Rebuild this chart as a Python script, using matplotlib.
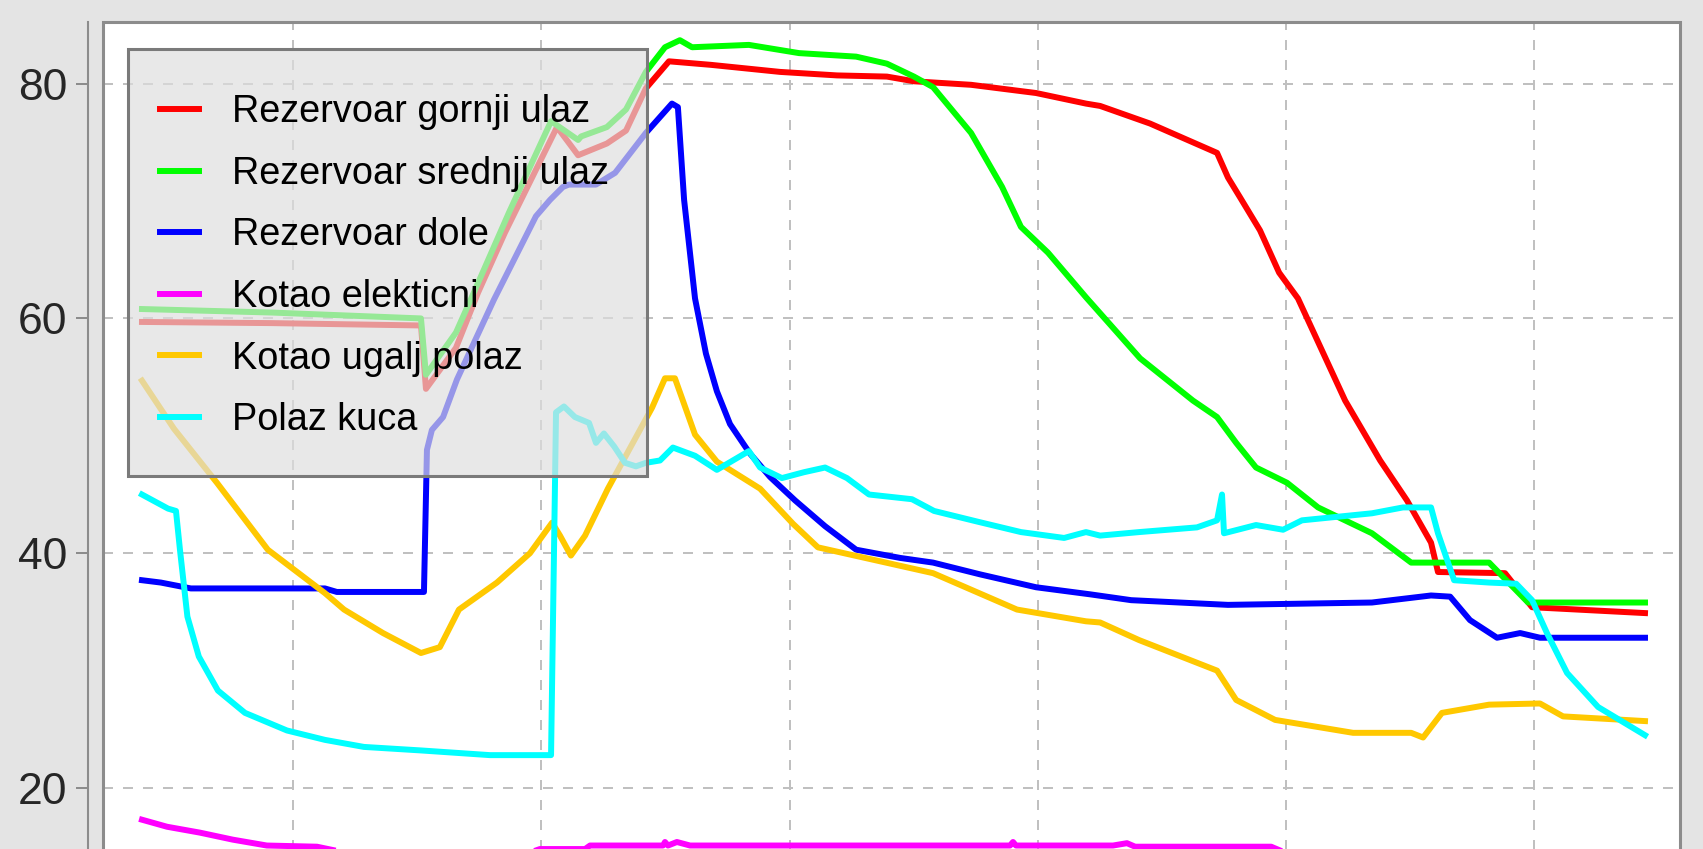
import matplotlib.pyplot as plt
from matplotlib.patches import Rectangle

# vremenska osa (sati), vrijednosti u °C
red_x = [0.391, 0.915, 1.515, 1.535, 1.656, 1.745, 1.853, 2.063, 2.148, 2.264, 2.341, 2.421,
         2.514, 2.683, 2.961, 3.191, 3.392, 3.501, 3.731, 3.993, 4.194, 4.251, 4.452, 4.722,
         4.766, 4.815, 4.895, 4.972, 5.048, 5.238, 5.379, 5.487, 5.584, 5.612, 5.882, 5.991, 6.446]
red_y = [59.7, 59.6, 59.4, 54.0, 57.5, 62.2, 67.3, 76.3, 73.9, 74.9, 76.0, 79.6,
         81.9, 81.6, 81.0, 80.7, 80.6, 80.2, 79.9, 79.2, 78.3, 78.1, 76.6, 74.1,
         72.0, 70.3, 67.5, 63.9, 61.7, 53.0, 47.9, 44.5, 40.9, 38.4, 38.3, 35.4, 34.9]

green_x = [0.391, 0.915, 1.515, 1.535, 1.656, 1.732, 1.869, 2.039, 2.148, 2.160, 2.264, 2.341,
           2.421, 2.498, 2.558, 2.607, 2.836, 3.038, 3.268, 3.392, 3.501, 3.578, 3.731, 3.856,
           3.932, 4.041, 4.194, 4.412, 4.625, 4.722, 4.799, 4.879, 5.004, 5.129, 5.346, 5.504,
           5.818, 5.975, 6.446]
green_y = [60.8, 60.5, 60.0, 55.2, 58.8, 62.4, 69.0, 76.8, 75.2, 75.5, 76.3, 77.8,
           81.0, 83.1, 83.7, 83.1, 83.3, 82.6, 82.3, 81.7, 80.6, 79.7, 75.8, 71.2,
           67.8, 65.6, 61.8, 56.6, 53.0, 51.6, 49.4, 47.3, 46.0, 43.9, 41.7, 39.2,
           39.2, 35.8, 35.8]

blue_x = [0.391, 0.467, 0.588, 1.128, 1.176, 1.527, 1.539, 1.559, 1.604, 1.660, 1.809, 1.978,
          2.035, 2.087, 2.111, 2.220, 2.297, 2.421, 2.526, 2.550, 2.575, 2.619, 2.663, 2.707,
          2.760, 2.840, 2.921, 3.022, 3.143, 3.268, 3.445, 3.578, 3.767, 3.993, 4.210, 4.376,
          4.766, 5.346, 5.584, 5.661, 5.741, 5.850, 5.943, 6.023, 6.446]
blue_y = [37.7, 37.5, 37.0, 37.0, 36.7, 36.7, 48.8, 50.5, 51.6, 54.8, 61.6, 68.7,
          70.1, 71.2, 71.4, 71.4, 72.4, 75.8, 78.3, 78.0, 70.1, 61.7, 57.0, 53.8,
          51.0, 48.5, 46.5, 44.5, 42.3, 40.3, 39.6, 39.2, 38.2, 37.1, 36.5, 36.0,
          35.6, 35.8, 36.4, 36.3, 34.3, 32.8, 33.2, 32.8, 32.8]

magenta_x = [0.391, 0.492, 0.624, 0.757, 0.894, 1.096, 1.209, 1.954, 1.994, 2.176, 2.196,
             2.490, 2.498, 2.510, 2.546, 2.599, 3.888, 3.900, 3.912, 4.303, 4.359, 4.392,
             4.940, 4.996, 6.446]
magenta_y = [17.3, 16.7, 16.2, 15.6, 15.1, 15.0, 14.5, 14.5, 14.8, 14.8, 15.1,
             15.1, 15.4, 15.1, 15.4, 15.1, 15.1, 15.4, 15.1, 15.1, 15.3, 15.0,
             15.0, 14.5, 14.5]

orange_x = [0.391, 0.520, 0.693, 0.898, 1.128, 1.205, 1.362, 1.515, 1.591, 1.668, 1.821, 1.954,
            2.043, 2.075, 2.119, 2.176, 2.268, 2.446, 2.498, 2.538, 2.619, 2.707, 2.881, 3.014,
            3.114, 3.578, 3.916, 4.194, 4.251, 4.408, 4.722, 4.799, 4.956, 5.270, 5.504, 5.552,
            5.628, 5.818, 6.023, 6.116, 6.446]
orange_y = [54.7, 50.6, 46.0, 40.3, 36.6, 35.2, 33.2, 31.5, 32.0, 35.2, 37.5, 40.0,
            42.6, 41.5, 39.8, 41.5, 45.5, 52.4, 54.9, 54.9, 50.1, 47.8, 45.5, 42.5,
            40.5, 38.3, 35.2, 34.2, 34.1, 32.6, 30.0, 27.5, 25.8, 24.7, 24.7, 24.3,
            26.4, 27.1, 27.2, 26.1, 25.7]

cyan_x = [0.391, 0.496, 0.528, 0.544, 0.574, 0.620, 0.697, 0.806, 0.975, 1.128, 1.285, 1.515,
          1.793, 2.039, 2.059, 2.091, 2.135, 2.192, 2.220, 2.252, 2.293, 2.337, 2.381, 2.421,
          2.478, 2.530, 2.619, 2.707, 2.836, 2.881, 2.969, 3.058, 3.143, 3.231, 3.320, 3.493,
          3.582, 3.755, 3.932, 4.106, 4.194, 4.251, 4.408, 4.641, 4.722, 4.742, 4.750, 4.879,
          4.988, 5.064, 5.346, 5.471, 5.584, 5.612, 5.677, 5.818, 5.927, 5.991, 6.051, 6.132,
          6.257, 6.446]
cyan_y = [45.0, 43.8, 43.6, 40.3, 34.6, 31.2, 28.3, 26.4, 24.9, 24.1, 23.5, 23.2,
          22.8, 22.8, 52.0, 52.5, 51.6, 51.1, 49.4, 50.2, 49.1, 47.7, 47.4, 47.7,
          47.9, 49.0, 48.3, 47.1, 48.7, 47.3, 46.4, 46.9, 47.3, 46.4, 45.0, 44.6,
          43.6, 42.7, 41.8, 41.3, 41.8, 41.5, 41.8, 42.2, 42.8, 45.0, 41.7, 42.4,
          42.0, 42.8, 43.4, 43.9, 43.9, 41.7, 37.7, 37.5, 37.4, 36.0, 33.2, 29.8,
          26.9, 24.5]

nazivi = ["Rezervoar gornji ulaz", "Rezervoar srednji ulaz", "Rezervoar dole",
          "Kotao elekticni", "Kotao ugalj polaz", "Polaz kuca"]
boje = ["#ff0000", "#00ff00", "#0000ff", "#ff00ff", "#ffc800", "#00ffff"]

serije = [(red_x, red_y), (green_x, green_y), (blue_x, blue_y),
          (magenta_x, magenta_y), (orange_x, orange_y), (cyan_x, cyan_y)]

plt.rcParams['font.family'] = ['Liberation Sans', 'DejaVu Sans']

fig = plt.figure(figsize=(17.03, 8.49), dpi=100, facecolor="#e4e4e4")
# isjecak: donji dio grafikona je odsjecen
ax = fig.add_axes([103 / 1703, (849 - 22 - 883.4) / 849, 1577 / 1703, 883.4 / 849])
ax.set_facecolor("white")

for (x, y), naziv, boja in zip(serije, nazivi, boje):
    ax.plot(x, y, color=boja, lw=4.3, label=naziv)

ax.set_xlim(0.234, 6.587)
ax.set_ylim(10, 85.25)
ax.set_xticks([1, 2, 3, 4, 5, 6])
ax.set_yticks([20, 40, 60, 80])

ax.grid(True, color="#c0c0c0", linestyle=(0, (5, 5)), linewidth=1.44)
ax.set_axisbelow(True)

for s in ["top", "right", "bottom"]:
    ax.spines[s].set_visible(False)
ax.spines["left"].set_position(("outward", 10.8))
ax.spines["left"].set_color("#8c8c8c")
ax.spines["left"].set_linewidth(1.5)

okvir = Rectangle((0, 0), 1, 1, transform=ax.transAxes, fill=False,
                  edgecolor="#8c8c8c", linewidth=2.2, clip_on=False, zorder=3)
ax.add_patch(okvir)

ax.tick_params(axis="y", direction="out", length=8.6, width=1.44, color="#8c8c8c",
               pad=6.5, labelsize=32, labelcolor="#262626")
ax.tick_params(axis="x", bottom=False, labelbottom=False)

# legenda: poluprozirna siva podloga iza stavki
podloga = Rectangle((0.01585, 0.4861), 0.3292, 0.4833, transform=ax.transAxes,
                    facecolor=(0.87, 0.87, 0.87, 0.68), edgecolor="#7a7a7a",
                    linewidth=2.2, zorder=4.9)
ax.add_patch(podloga)
leg = ax.legend(loc="upper left", bbox_to_anchor=(0.01585, 0.9547), borderaxespad=0,
                fontsize=27.3, handlelength=1.03, handletextpad=0.873, borderpad=0.85,
                labelspacing=0.675, frameon=False)

fig.savefig("out.png", dpi=100, facecolor=fig.get_facecolor())
